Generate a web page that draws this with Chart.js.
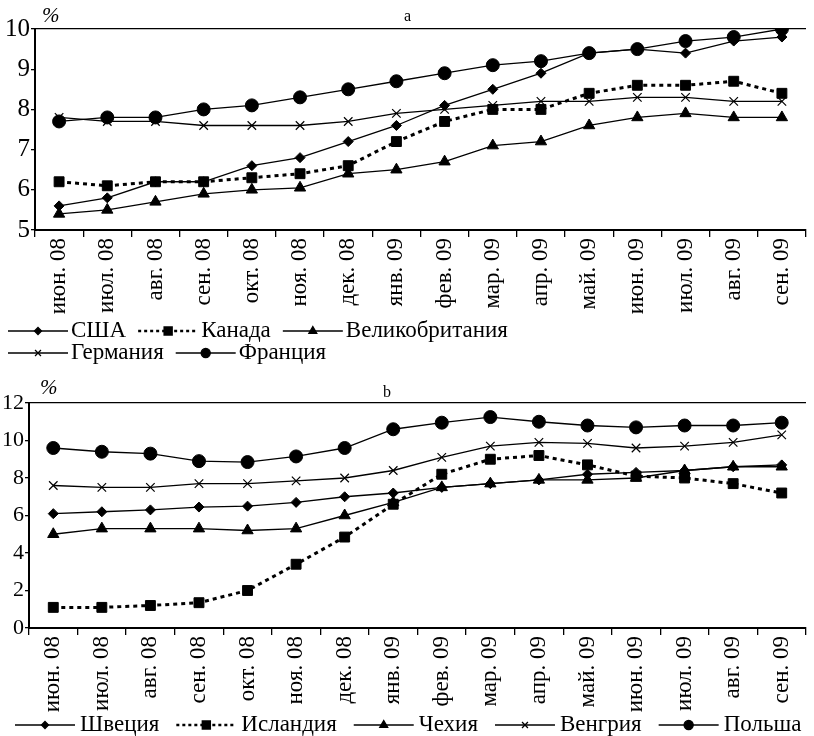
<!DOCTYPE html>
<html>
<head>
<meta charset="utf-8">
<script src="https://cdn.jsdelivr.net/npm/chart.js@4.4.1/dist/chart.umd.min.js"></script>
<style>
  body { margin: 0; background: #fff; }
  canvas { display: block; }
</style>
</head>
<body>
<canvas id="chartA" width="814" height="370"></canvas>
<canvas id="chartB" width="814" height="366"></canvas>
<script>
// month labels, shared by both panels
const months = ['июн. 08', 'июл. 08', 'авг. 08', 'сен. 08', 'окт. 08', 'ноя. 08', 'дек. 08', 'янв. 09',
                'фев. 09', 'мар. 09', 'апр. 09', 'май. 09', 'июн. 09', 'июл. 09', 'авг. 09', 'сен. 09'];

// panel a
const usa     = [5.6, 5.8, 6.2, 6.2, 6.6, 6.8, 7.2, 7.6, 8.1, 8.5, 8.9, 9.4, 9.5, 9.4, 9.7, 9.8];
const canada  = [6.2, 6.1, 6.2, 6.2, 6.3, 6.4, 6.6, 7.2, 7.7, 8.0, 8.0, 8.4, 8.6, 8.6, 8.7, 8.4];
const uk      = [5.4, 5.5, 5.7, 5.9, 6.0, 6.05, 6.4, 6.5, 6.7, 7.1, 7.2, 7.6, 7.8, 7.9, 7.8, 7.8];
const germany = [7.8, 7.7, 7.7, 7.6, 7.6, 7.6, 7.7, 7.9, 8.0, 8.1, 8.2, 8.2, 8.3, 8.3, 8.2, 8.2];
const france  = [7.7, 7.8, 7.8, 8.0, 8.1, 8.3, 8.5, 8.7, 8.9, 9.1, 9.2, 9.4, 9.5, 9.7, 9.8, 10.0];
const ticksA  = [5, 6, 7, 8, 9, 10];

// panel b
const sweden  = [6.1, 6.2, 6.3, 6.45, 6.5, 6.7, 7.0, 7.2, 7.5, 7.7, 7.9, 8.2, 8.3, 8.4, 8.6, 8.7];
const iceland = [1.1, 1.1, 1.2, 1.35, 2.0, 3.4, 4.85, 6.6, 8.2, 9.0, 9.2, 8.7, 8.1, 8.0, 7.7, 7.2];
const czech   = [5.0, 5.3, 5.3, 5.3, 5.2, 5.3, 6.0, 6.7, 7.5, 7.7, 7.9, 7.9, 8.0, 8.4, 8.6, 8.6];
const hungary = [7.6, 7.5, 7.5, 7.7, 7.7, 7.85, 8.0, 8.4, 9.1, 9.7, 9.9, 9.85, 9.6, 9.7, 9.9, 10.3];
const poland  = [9.6, 9.4, 9.3, 8.9, 8.85, 9.15, 9.6, 10.6, 10.95, 11.25, 11.0, 10.8, 10.7, 10.8, 10.8, 10.95];
const ticksB  = [0, 2, 4, 6, 8, 10, 12];

const SERIF = '"Liberation Serif", "Times New Roman", serif';

function series(label, data, style, radius, dotted) {
  return {
    label: label,
    data: data,
    borderColor: '#000',
    backgroundColor: '#000',
    borderWidth: dotted ? 3 : 1.3,
    borderDash: dotted ? [4, 4] : [],
    pointStyle: style,
    pointRadius: radius,
    pointBorderWidth: style === 'crossRot' ? 1.2 : 1,
    pointBackgroundColor: '#000',
    pointBorderColor: '#000',
    tension: 0
  };
}

// draws the legend rows, the "%" unit and the panel letter
const extrasPlugin = {
  id: 'extras',
  afterDraw(chart, args, opts) {
    const ctx = chart.ctx;
    ctx.save();
    ctx.fillStyle = '#000';
    ctx.textBaseline = 'middle';
    ctx.font = 'italic 21px ' + SERIF;
    ctx.fillText('%', opts.pctX, opts.pctY);
    ctx.font = '16px ' + SERIF;
    ctx.fillText(opts.letter, opts.letterX, opts.letterY);

    ctx.font = opts.legendFont + 'px ' + SERIF;
    opts.rows.forEach((row, r) => {
      let x = opts.legendX;
      const y = opts.legendY[r];
      row.forEach(i => {
        const ds = chart.data.datasets[i];
        const len = 60;
        ctx.strokeStyle = '#000';
        ctx.lineWidth = ds.borderDash.length ? 2.5 : 1.3;
        ctx.setLineDash(ds.borderDash.length ? [3, 3] : []);
        ctx.beginPath();
        ctx.moveTo(x, y);
        ctx.lineTo(x + len, y);
        ctx.stroke();
        ctx.setLineDash([]);
        Chart.helpers.drawPoint(ctx, {
          pointStyle: ds.pointStyle,
          radius: ds.pointRadius * 0.7,
          rotation: 0,
          borderWidth: 1
        }, x + len / 2, y);
        ctx.fillStyle = '#000';
        ctx.fillText(ds.label, x + len + opts.textGap, y);
        x += len + opts.textGap + ctx.measureText(ds.label).width + opts.gap;
      });
    });
    ctx.restore();
  }
};

function makeOptions(yMin, yMax, yTicks, yWidth, xHeight, padTop, yFont, extras) {
  return {
    responsive: false,
    animation: false,
    layout: { padding: { top: padTop, left: 0, right: 0, bottom: 0 } },
    plugins: {
      legend: { display: false },
      tooltip: { enabled: false },
      extras: extras
    },
    scales: {
      x: {
        offset: true,
        grid: { offset: true, drawOnChartArea: false, color: '#000', tickLength: 7, lineWidth: 1.3 },
        border: { display: true, color: '#000', width: 2 },
        ticks: {
          autoSkip: false, minRotation: 90, maxRotation: 90, padding: 1,
          color: '#000', font: { family: SERIF, size: 23 }
        },
        afterFit: s => { s.height = xHeight; }
      },
      y: {
        min: yMin,
        max: yMax,
        afterBuildTicks: s => { s.ticks = yTicks.map(v => ({ value: v })); },
        grid: {
          color: c => (c.tick && c.tick.value === yMax) ? '#000' : 'rgba(0,0,0,0)',
          tickColor: '#000',
          tickLength: 4,
          lineWidth: 1.3
        },
        border: { display: true, color: '#000', width: 2 },
        ticks: { padding: 1, color: '#000', font: { family: SERIF, size: yFont } },
        afterFit: s => { s.width = yWidth; }
      }
    }
  };
}

new Chart(document.getElementById('chartA'), {
  type: 'line',
  data: {
    labels: months,
    datasets: [
      series('США', usa, 'rectRot', 5, false),
      series('Канада', canada, 'rect', 7, true),
      series('Великобритания', uk, 'triangle', 6.5, false),
      series('Германия', germany, 'crossRot', 6, false),
      series('Франция', france, 'circle', 6.5, false)
    ]
  },
  options: makeOptions(5, 10, ticksA, 35, 140, 29, 25, {
    pctX: 42, pctY: 16, letter: 'a', letterX: 404, letterY: 17,
    rows: [[0, 1, 2], [3, 4]], legendX: 8, legendY: [331, 353], legendFont: 23, textGap: 3, gap: 12
  }),
  plugins: [extrasPlugin]
});

new Chart(document.getElementById('chartB'), {
  type: 'line',
  data: {
    labels: months,
    datasets: [
      series('Швеция', sweden, 'rectRot', 5, false),
      series('Исландия', iceland, 'rect', 7, true),
      series('Чехия', czech, 'triangle', 6.5, false),
      series('Венгрия', hungary, 'crossRot', 6, false),
      series('Польша', poland, 'circle', 6.5, false)
    ]
  },
  options: makeOptions(0, 12, ticksB, 29, 108, 33, 22, {
    pctX: 40, pctY: 18, letter: 'b', letterX: 383, letterY: 23,
    rows: [[0, 1, 2, 3, 4]], legendX: 15, legendY: [355], legendFont: 23, textGap: 5, gap: 17
  }),
  plugins: [extrasPlugin]
});
</script>
</body>
</html>
